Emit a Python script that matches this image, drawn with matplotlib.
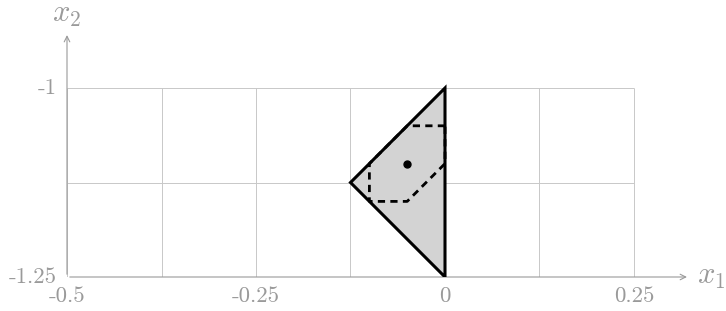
import matplotlib
matplotlib.use('Agg')
import matplotlib.pyplot as plt

plt.rcParams['mathtext.fontset'] = 'cm'

# data
triangle_x = [0, 0, -0.125]
triangle_y = [-1, -1.25, -1.125]
dashed_x = [0, -0.05, -0.1, -0.1, -0.05, 0, 0]
dashed_y = [-1.05, -1.05, -1.1, -1.15, -1.15, -1.1, -1.05]
point_x, point_y = -0.05, -1.1
grid_x = [-0.5, -0.375, -0.25, -0.125, 0, 0.125, 0.25]
grid_y = [-1.25, -1.125, -1]
xtick_vals = [-0.5, -0.25, 0, 0.25]
xtick_labels = ['-0.5', '-0.25', '0', '0.25']
ytick_vals = [-1.25, -1]
ytick_labels = ['-1.25', '-1']

W, H = 726, 311
fig = plt.figure(figsize=(W / 100, H / 100), dpi=100)
# axis frame: x=-0.5 at px 67, y=-1.25 at py 277, 756 px per unit
x0, x1 = -0.5, 0.3267
y0, y1 = -1.25, -0.9233
ax = fig.add_axes([67 / W, (H - 277) / H, (x1 - x0) * 756 / W, (y1 - y0) * 756 / H])
ax.set_xlim(x0, x1)
ax.set_ylim(y0, y1)
ax.axis('off')

grid_col = '#c8c8c8'
axis_col = '#9a9a9a'
ax.vlines(grid_x, grid_y[0], grid_y[-1], color=grid_col, lw=0.7, zorder=1)
ax.hlines(grid_y, grid_x[0], grid_x[-1], color=grid_col, lw=0.7, zorder=1)

# axes with arrows
ax.annotate('', xy=(x1 - 0.003, y0), xytext=(x0, y0),
            arrowprops=dict(arrowstyle='->', color=axis_col, lw=0.8), zorder=2)
ax.annotate('', xy=(x0, y1 - 0.003), xytext=(x0, y0),
            arrowprops=dict(arrowstyle='->', color=axis_col, lw=0.8), zorder=2)
ax.text(x1 + 0.007, y0 + 0.001, '$x_1$', color=axis_col, fontsize=22, va='center', ha='left', clip_on=False)
ax.text(x0, y1 + 0.02, '$x_2$', color=axis_col, fontsize=22, va='center', ha='center', clip_on=False)

for v, lab in zip(xtick_vals, xtick_labels):
    ax.text(v, y0 - 0.025, lab, color=axis_col, fontsize=16.5, family='cmr10',
            ha='center', va='center', clip_on=False)
for v, lab in zip(ytick_vals, ytick_labels):
    ax.text(x0 - 0.013, v, lab, color=axis_col, fontsize=16.5, family='cmr10',
            ha='right', va='center', clip_on=False)

ax.fill(triangle_x, triangle_y, facecolor='#d3d3d3', edgecolor='black', lw=2.2,
        joinstyle='miter', zorder=3)
ax.plot(dashed_x, dashed_y, color='black', lw=2.0, ls=(0, (2.6, 1.9)), zorder=4)
ax.plot([point_x], [point_y], 'o', color='black', ms=5, zorder=5)

fig.savefig('out.png', dpi=100)
